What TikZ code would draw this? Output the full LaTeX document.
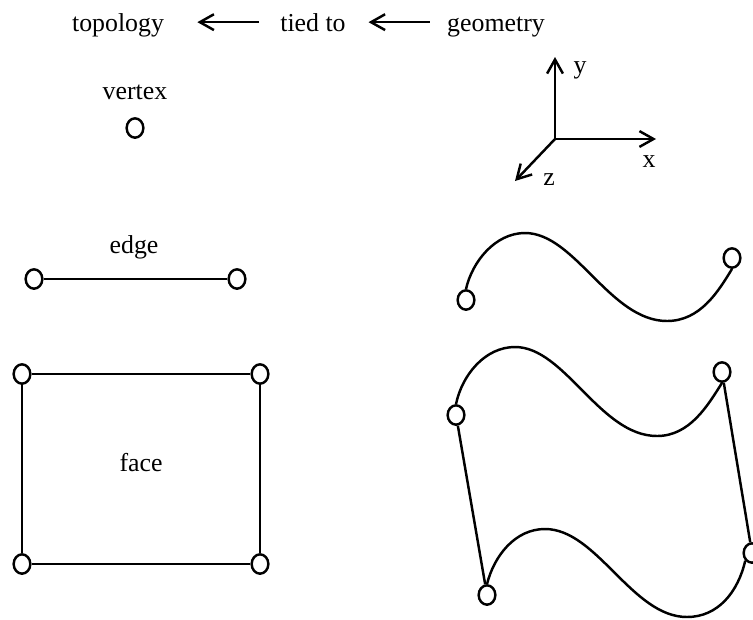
\documentclass[tikz,border=0pt]{standalone}
\usepackage{fontspec}
\setmainfont{Liberation Serif}
\usetikzlibrary{shapes.geometric,arrows.meta}
\begin{document}
\begin{tikzpicture}[x=0.02cm, y=-0.02cm, line width=1.4pt,
  >={Straight Barb[length=8pt,width=9pt]},
  every node/.style={font=\fontsize{14.7}{17}\selectfont},
  pt/.style={draw, ellipse, minimum width=9.5pt, minimum height=11pt, inner sep=0pt}]
\useasboundingbox (0,0) rectangle (753,619);
% header
\node[anchor=base] (topo) at (118,31) {topology};
\node[anchor=base] (tied) at (313,31) {tied to};
\node[anchor=base] (geom) at (496,31) {geometry};
\draw[->, shorten <=8pt, shorten >=15pt] (tied.west) -- (topo.east |- tied.west);
\draw[->, shorten <=6pt, shorten >=9pt] (geom.west |- tied.east) -- (tied.east);
% axes
\coordinate (orig) at (555,139);
\coordinate (ytip) at (555,57);
\coordinate (xtip) at (656,139);
\coordinate (ztip) at (515,181);
\draw[->] (orig) -- (ytip);
\draw[->] (orig) -- (xtip);
\draw[->] (orig) -- (ztip);
\node (ylab) at (580,70) {y};
\node (xlab) at (649,162) {x};
\node (zlab) at (549,180) {z};
% vertex
\node (vlab) at (135,92) {vertex};
\node[pt] (v) at (135,128) {};
% edge
\node (elab) at (134,247) {edge};
\node[pt] (e1) at (34,279) {};
\node[pt] (e2) at (237,279) {};
\draw (e1) -- (e2);
% face
\node[pt] (f1) at (22,374) {};
\node[pt] (f2) at (260,374) {};
\node[pt] (f3) at (22,564) {};
\node[pt] (f4) at (260,564) {};
\node (flab) at (141,463) {face};
\draw (f1) -- (f2) -- (f4) -- (f3) -- (f1);
% geometry edge
\node[pt] (c1) at (466,300) {};
\node[pt] (c2) at (732,258) {};
\draw (c1.north) .. controls (472,262) and (495,233) .. (525,233)
  .. controls (575,233) and (610,321) .. (667,321)
  .. controls (700,321) and (718,292) .. (c2.south);
% geometry face
\node[pt] (s1) at (456,415) {};
\node[pt] (s2) at (722,372) {};
\node[pt] (s3) at (487,595) {};
\node[pt] (s4) at (752,553) {};
\draw (s1.north) .. controls (462,375) and (485,347) .. (515,347)
  .. controls (565,347) and (600,436) .. (657,436)
  .. controls (690,436) and (708,405) .. (s2.south);
\draw (s3.north) .. controls (494,556) and (515,529) .. (545,529)
  .. controls (597,529) and (632,617) .. (687,617)
  .. controls (718,617) and (738,592) .. (s4.south west);
\draw (s1) -- (s3);
\draw (s2) -- (s4);
\end{tikzpicture}
\end{document}
